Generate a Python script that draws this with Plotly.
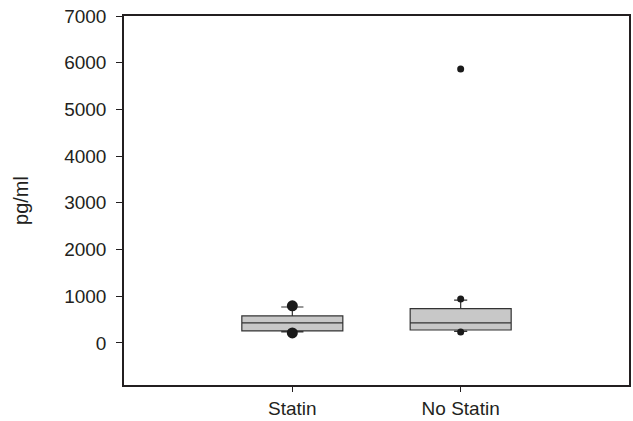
import plotly.graph_objects as go

categories = ["Statin", "No Statin"]
positions = [1, 2]
q1 = [257, 278]
median = [428, 428]
q3 = [578, 734]
lower_whisker = [235, 250]
upper_whisker = [770, 915]
# points beyond whiskers
statin_points = [796, 214]
nostatin_points = [940, 235, 5867]

fig = go.Figure()

cap_widths = [0.22, 0.13]
for i in range(2):
    fig.add_trace(go.Box(
        x=[positions[i]], q1=[q1[i]], median=[median[i]], q3=[q3[i]],
        lowerfence=[lower_whisker[i]], upperfence=[upper_whisker[i]],
        width=0.6, whiskerwidth=cap_widths[i],
        fillcolor="#c8c8c8", line=dict(color="#333333", width=1.2),
        boxpoints=False, showlegend=False, name=categories[i],
    ))

fig.add_trace(go.Scatter(
    x=[positions[0]] * len(statin_points), y=statin_points, mode="markers",
    marker=dict(color="#1a1a1a", size=11), showlegend=False,
))
fig.add_trace(go.Scatter(
    x=[positions[1]] * len(nostatin_points), y=nostatin_points, mode="markers",
    marker=dict(color="#1a1a1a", size=7), showlegend=False,
))

axis_font = dict(family="Arial, Liberation Sans, sans-serif", size=19, color="#231f20")

fig.update_layout(
    width=633, height=421,
    margin=dict(l=124, r=4, t=16, b=36, autoexpand=False),
    paper_bgcolor="white", plot_bgcolor="white",
    font=axis_font,
    xaxis=dict(
        range=[0, 3], tickvals=positions, ticktext=categories,
        ticks="outside", ticklen=5, tickcolor="#231f20",
        showline=True, linecolor="#231f20", linewidth=1.5, mirror=True,
        showgrid=False, zeroline=False, automargin=False,
    ),
    yaxis=dict(
        range=[-900, 7000], tickvals=[0, 1000, 2000, 3000, 4000, 5000, 6000, 7000],
        ticks="outside", ticklen=6, tickcolor="#231f20", ticklabelstandoff=6,
        showline=True, linecolor="#231f20", linewidth=1.5, mirror=True,
        showgrid=False, zeroline=False, automargin=False,
        title=dict(text="pg/ml", standoff=30, font=dict(size=20)),
    ),
)

fig.write_html(
    "out.html",
    config={"displayModeBar": False},
    post_script="document.body.style.margin='0';document.body.style.overflow='hidden';",
)
